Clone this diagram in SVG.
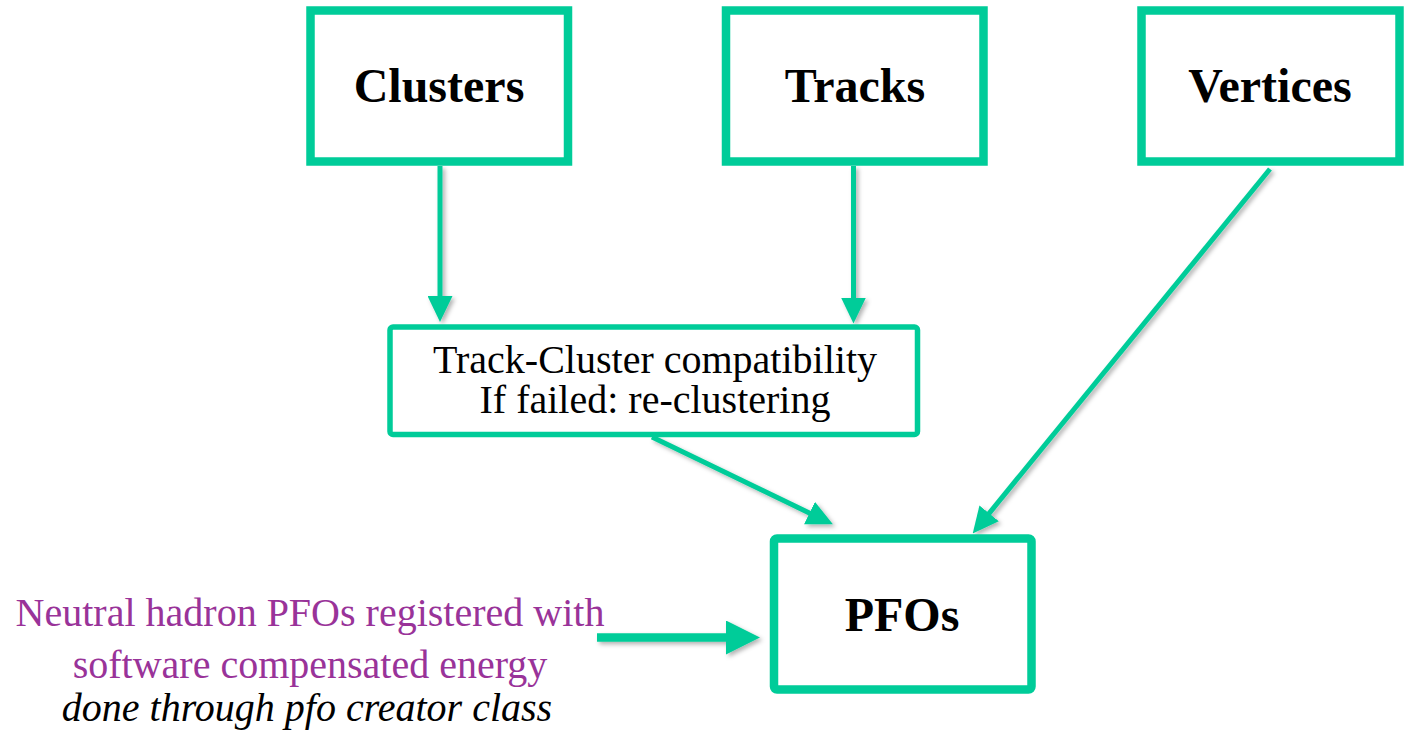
<svg xmlns="http://www.w3.org/2000/svg" width="1406" height="731" viewBox="0 0 1406 731">
  <style>
    text { font-family: 'Liberation Serif', 'DejaVu Serif', 'Times New Roman', serif; }
    .box { fill: #ffffff; stroke: #00cc99; stroke-width: 8.5; }
    .boxThin { fill: #ffffff; stroke: #00cc99; stroke-width: 5.5; stroke-linejoin: round; }
    .title { font-weight: bold; font-size: 48px; fill: #000000; text-anchor: middle; }
    .body { font-size: 40px; fill: #000000; text-anchor: middle; }
    .note { font-size: 40px; fill: #993399; text-anchor: middle; }
    .noteItalic { font-size: 40px; font-style: italic; fill: #000000; text-anchor: middle; }
    .link { fill: none; stroke: #00cc99; stroke-width: 5; }
    .linkBold { fill: none; stroke: #00cc99; stroke-width: 8.5; }
  </style>
  <defs>
    <marker id="head" markerUnits="userSpaceOnUse" viewBox="0 0 26 25" refX="1" refY="12.5" markerWidth="26" markerHeight="25" orient="auto">
      <path d="M0,0 L26,12.5 L0,25 Z" fill="#00cc99"/>
    </marker>
    <marker id="headBig" markerUnits="userSpaceOnUse" viewBox="0 0 34 34" refX="1" refY="17" markerWidth="34" markerHeight="34" orient="auto">
      <path d="M0,0 L34,17 L0,34 Z" fill="#00cc99"/>
    </marker>
    <filter id="shadow" x="-20%" y="-20%" width="140%" height="140%">
      <feDropShadow dx="2.5" dy="2.5" stdDeviation="2" flood-color="#000000" flood-opacity="0.3"/>
    </filter>
    <clipPath id="midClip">
      <rect x="392" y="329" width="523" height="93"/>
    </clipPath>
  </defs>

  <!-- connectors -->
  <g id="connectors" filter="url(#shadow)">
    <line class="link" x1="440" y1="166" x2="440" y2="297" marker-end="url(#head)"/>
    <line class="link" x1="853.5" y1="166" x2="853.5" y2="298.5" marker-end="url(#head)"/>
    <line class="link" x1="652" y1="437" x2="810.4" y2="513.5" marker-end="url(#head)"/>
    <line class="link" x1="1270" y1="169" x2="988.5" y2="514.1" marker-end="url(#head)"/>
    <line class="linkBold" x1="597" y1="637.5" x2="727" y2="637.5" marker-end="url(#headBig)"/>
  </g>

  <g id="clusters">
    <rect class="box" x="310.5" y="10.5" width="257.5" height="151"/>
    <text class="title" x="439" y="102">Clusters</text>
  </g>

  <g id="tracks">
    <rect class="box" x="726" y="10.5" width="257.5" height="151"/>
    <text class="title" x="855" y="102">Tracks</text>
  </g>

  <g id="vertices">
    <rect class="box" x="1141.5" y="10.5" width="258" height="151"/>
    <text class="title" x="1270" y="102">Vertices</text>
  </g>

  <g id="compatibility">
    <rect class="boxThin" x="390" y="327" width="527.5" height="107.5" rx="3"/>
    <!-- second line's descenders are cut off at the inner edge -->
    <g clip-path="url(#midClip)">
      <text class="body"><tspan x="655" y="373">Track-Cluster compatibility</tspan><tspan x="655" y="413">If failed: re-clustering</tspan></text>
    </g>
  </g>

  <g id="pfos">
    <rect class="box" x="774" y="538.5" width="257.5" height="151" rx="3" style="stroke-linejoin: round;"/>
    <text class="title" x="902" y="631">PFOs</text>
  </g>

  <g id="neutral-note">
    <text class="note"><tspan x="310" y="626">Neutral hadron PFOs registered with</tspan><tspan x="310" y="678">software compensated energy</tspan></text>
    <text class="noteItalic" x="307" y="721">done through pfo creator class</text>
  </g>
</svg>
